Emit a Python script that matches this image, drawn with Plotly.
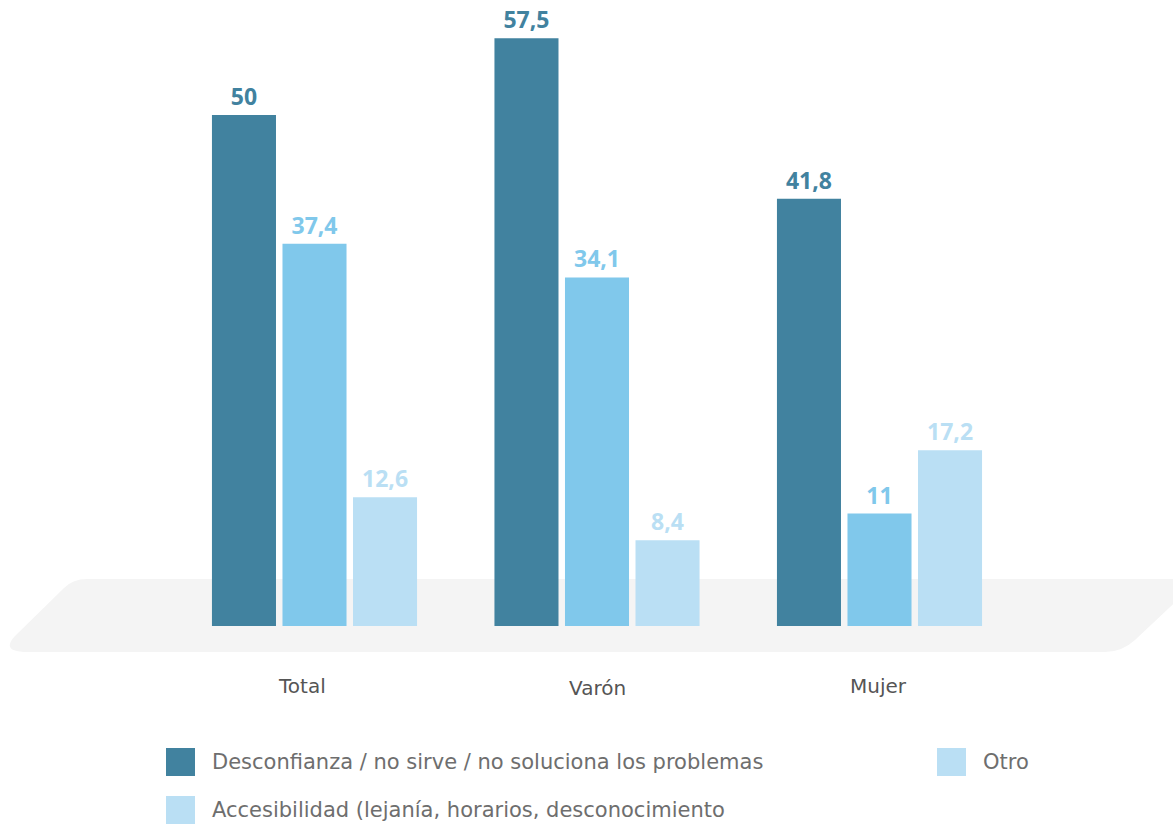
import plotly.graph_objects as go

# Survey groups and reasons
categories = ["Total", "Varón", "Mujer"]
desconfianza = [50, 57.5, 41.8]
accesibilidad = [37.4, 34.1, 11]
otro = [12.6, 8.4, 17.2]

series_names = [
    "Desconfianza / no sirve / no soluciona los problemas",
    "Accesibilidad (lejanía, horarios, desconocimiento",
    "Otro",
]

C_DARK = "#41829f"
C_MID = "#80c8eb"
C_LIGHT = "#badff4"

W, H = 1173, 825
PLOT_BOTTOM = 626          # pixel row of the bar baseline
Y_MAX = 61.25


def fmt(v):
    return f"{v:g}".replace(".", ",")


def px(x):
    return x / W


def py(y):
    return (PLOT_BOTTOM - y) / PLOT_BOTTOM


fig = go.Figure()
for name, vals, col in [
    (series_names[0], desconfianza, C_DARK),
    (series_names[1], accesibilidad, C_MID),
    (series_names[2], otro, C_LIGHT),
]:
    fig.add_trace(go.Bar(
        x=categories, y=vals, name=name,
        marker=dict(color=col, line=dict(width=0)),
        text=[fmt(v) for v in vals], textposition="outside",
        textfont=dict(family="Open Sans", size=23, color=col, weight="bold"),
        cliponaxis=False, showlegend=False,
    ))

# grey platform under the bars
def platform_path():
    pts = [
        ("M", 87, 579), ("L", 1200, 579), ("L", 1135, 640),
        ("Q", 1122, 652, 1105, 652), ("L", 28, 652),
        ("Q", 0, 652, 15, 636), ("L", 64, 588), ("Q", 73, 579, 87, 579),
    ]
    parts = []
    for p in pts:
        cmd = p[0]
        coords = p[1:]
        s = []
        for i in range(0, len(coords), 2):
            s.append(f"{px(coords[i]):.5f},{py(coords[i + 1]):.5f}")
        parts.append(cmd + " " + " ".join(s))
    return " ".join(parts) + " Z"


shapes = [dict(type="path", xref="paper", yref="paper", path=platform_path(),
               fillcolor="#f4f4f4", line=dict(width=0), layer="below")]

annotations = []
# category labels
for cat, yy, dx in zip(categories, [686, 688, 686], [-13, 0, -1]):
    annotations.append(dict(x=cat, xref="x", y=py(yy), yref="paper", text=cat,
                            showarrow=False, yanchor="middle", xshift=dx,
                            font=dict(family="DejaVu Sans", size=20, color="#555555")))

# legend drawn by hand
legend_items = [
    (series_names[0], C_DARK, 166, 762),
    (series_names[2], C_LIGHT, 937, 762),
    (series_names[1], C_LIGHT, 166, 810),
]
for label, col, x0, yc in legend_items:
    shapes.append(dict(type="rect", xref="paper", yref="paper",
                       x0=px(x0), x1=px(x0 + 29), y0=py(yc - 14), y1=py(yc + 14),
                       fillcolor=col, line=dict(width=0)))
    annotations.append(dict(x=px(x0 + 44), xref="paper", y=py(yc), yref="paper",
                            text=label, showarrow=False, xanchor="left", yanchor="middle",
                            font=dict(family="DejaVu Sans", size=21, color="#6e6e6e")))

fig.update_layout(
    width=W, height=H,
    margin=dict(l=0, r=0, t=0, b=H - PLOT_BOTTOM, pad=0),
    paper_bgcolor="white", plot_bgcolor="rgba(0,0,0,0)",
    barmode="group", bargap=0.251, bargroupgap=0.092,
    xaxis=dict(range=[-314.5 / 282.5, (W - 314.5) / 282.5], showticklabels=False,
               showgrid=False, zeroline=False, showline=False, ticks=""),
    yaxis=dict(range=[0, Y_MAX], visible=False, showgrid=False, zeroline=False),
    shapes=shapes, annotations=annotations,
    uniformtext=dict(mode=False),
)

fig.write_html("out.html")
